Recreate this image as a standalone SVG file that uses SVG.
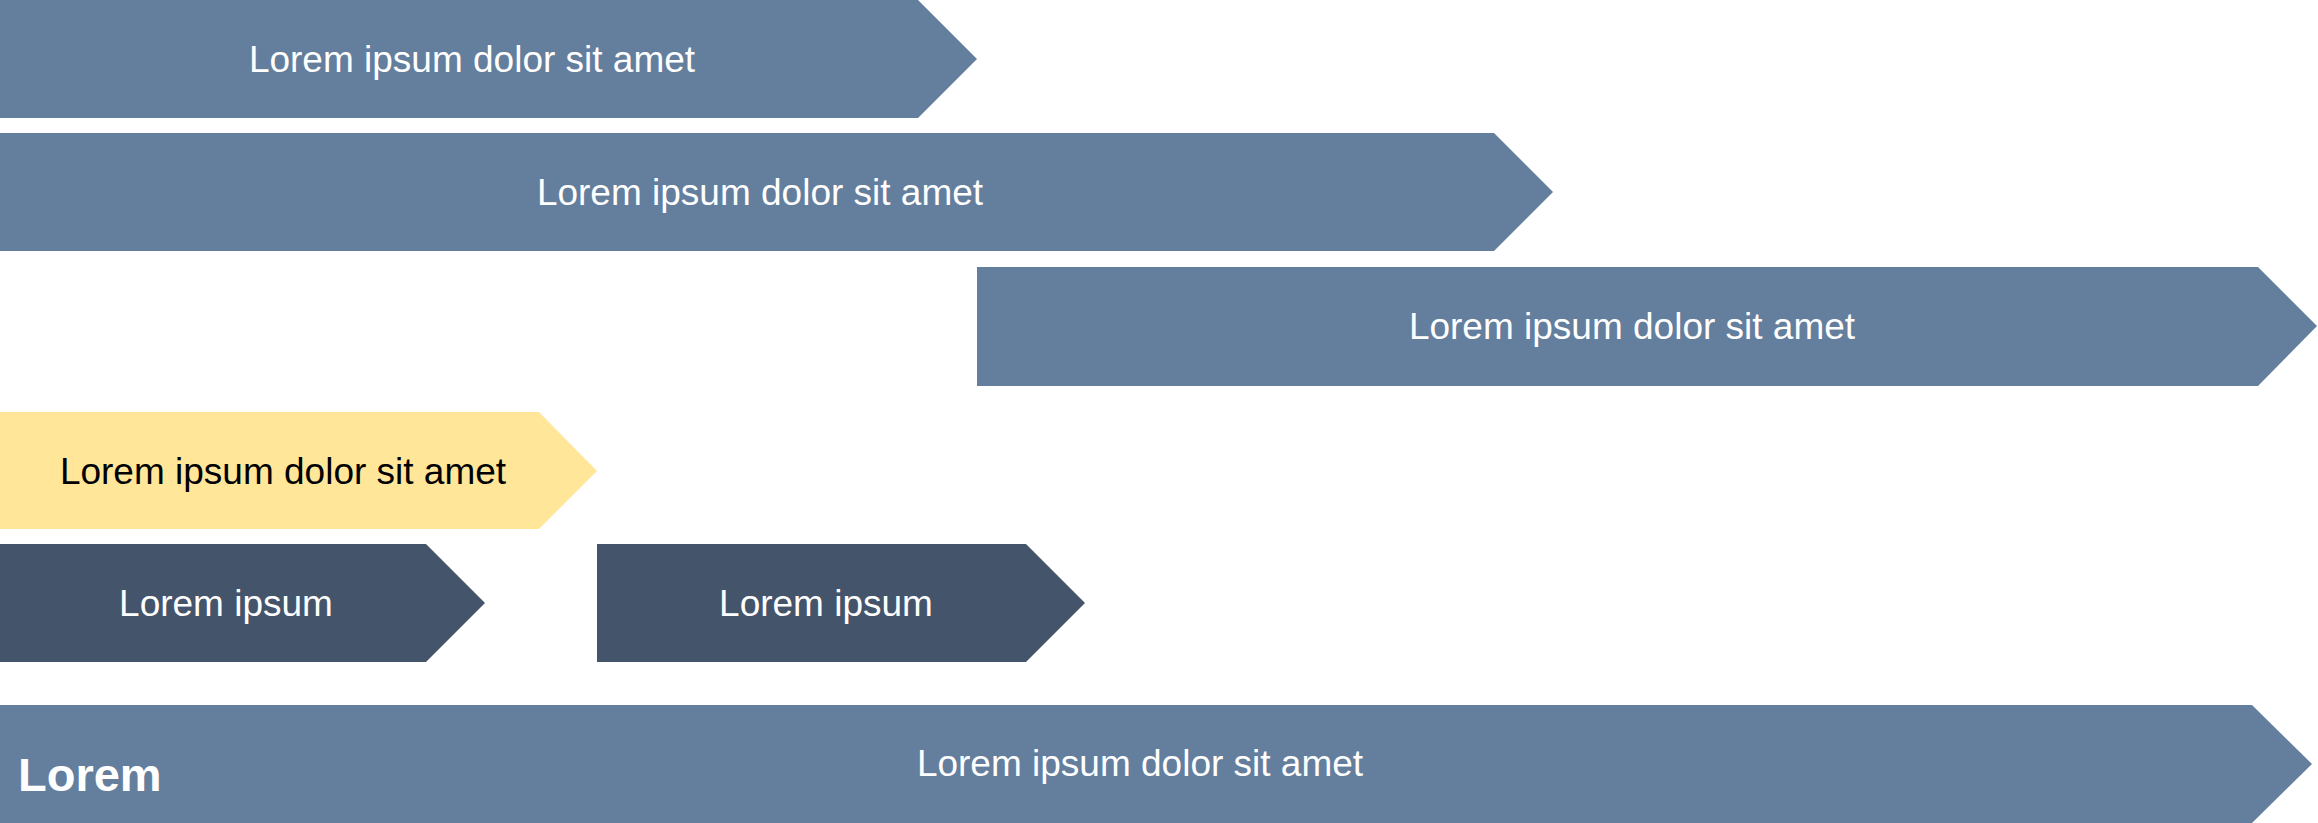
<svg xmlns="http://www.w3.org/2000/svg" width="2318" height="823" viewBox="0 0 2318 823">
<style>
.mid{fill:#647E9D}
.dark{fill:#44546B}
.yel{fill:#FFE699}
text{font-family:"Liberation Sans",Arial,sans-serif;font-size:37px;text-anchor:middle}
.w{fill:#FFFFFF}
.b{fill:#000000}
.bold{font-weight:bold;font-size:47px;text-anchor:start}
</style>
<rect width="2318" height="823" fill="#FFFFFF"/>
<g id="bar1">
<polygon class="mid" points="0,0 918,0 977,59 918,118 0,118"/>
<text class="w" x="472" y="72">Lorem ipsum dolor sit amet</text>
</g>
<g id="bar2">
<polygon class="mid" points="0,133 1494,133 1553,192 1494,251 0,251"/>
<text class="w" x="760" y="205">Lorem ipsum dolor sit amet</text>
</g>
<g id="bar3">
<polygon class="mid" points="977,267 2258,267 2317,326 2258,386 977,386"/>
<text class="w" x="1632" y="339">Lorem ipsum dolor sit amet</text>
</g>
<g id="bar4">
<polygon class="yel" points="0,412 539,412 597,471 539,529 0,529"/>
<text class="b" x="283" y="484">Lorem ipsum dolor sit amet</text>
</g>
<g id="bar5">
<polygon class="dark" points="0,544 426,544 485,603 426,662 0,662"/>
<text class="w" x="226" y="616">Lorem ipsum</text>
</g>
<g id="bar6">
<polygon class="dark" points="597,544 1026,544 1085,603 1026,662 597,662"/>
<text class="w" x="826" y="616">Lorem ipsum</text>
</g>
<g id="bar7">
<polygon class="mid" points="0,705 2252,705 2312,764 2252,823 0,823"/>
<text class="w" x="1140" y="776">Lorem ipsum dolor sit amet</text>
<text class="w bold" x="18" y="791">Lorem</text>
</g>
<g id="connectors"></g>
</svg>
